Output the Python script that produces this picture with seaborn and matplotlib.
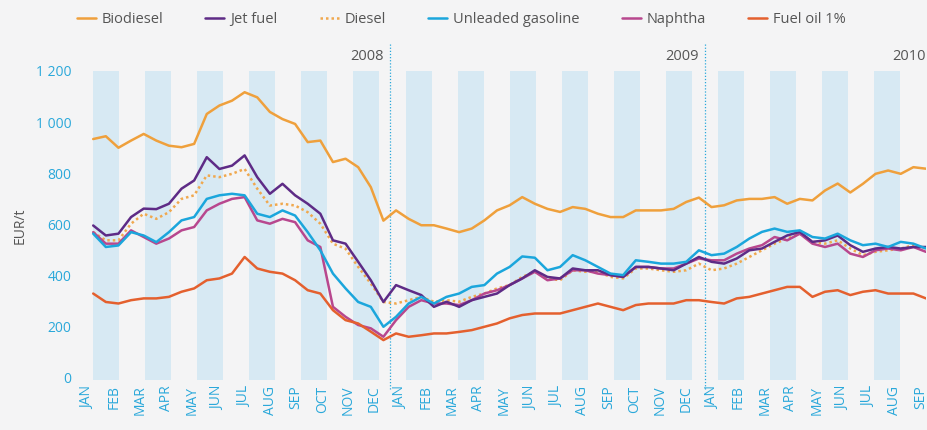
import numpy as np
import pandas as pd
import matplotlib.pyplot as plt
import seaborn as sns
from matplotlib.lines import Line2D

# month labels, Jan 2008 - Sep 2010
months_2008 = ["JAN", "FEB", "MAR", "APR", "MAY", "JUN", "JUL", "AUG", "SEP", "OCT", "NOV", "DEC"]
months_2009 = ["JAN", "FEB", "MAR", "APR", "MAY", "JUN", "JUL", "AUG", "SEP", "OCT", "NOV", "DEC"]
months_2010 = ["JAN", "FEB", "MAR", "APR", "MAY", "JUN", "JUL", "AUG", "SEP"]
month_labels = months_2008 + months_2009 + months_2010
years = ["2008", "2009", "2010"]

# prices in EUR/t, read roughly twice a month
biodiesel = [934, 945, 900, 928, 954, 928, 908, 902, 915, 1032, 1065, 1084, 1117, 1097, 1040, 1012,
             993, 922, 928, 844, 857, 824, 746, 615, 655, 622, 597, 597, 584, 570, 584, 616,
             655, 675, 707, 681, 661, 649, 668, 661, 642, 629, 629, 655, 655, 655, 661, 688,
             705, 668, 675, 694, 700, 700, 707, 681, 700, 694, 733, 760, 725, 759, 798, 811,
             798, 824, 818]
jet_fuel = [596, 557, 564, 629, 662, 660, 681, 740, 772, 863, 817, 830, 870, 785, 720, 759,
            714, 681, 642, 538, 525, 454, 382, 297, 363, 343, 324, 278, 298, 278, 304, 317,
            330, 363, 389, 421, 395, 389, 428, 421, 421, 402, 395, 434, 434, 428, 421, 447,
            473, 454, 447, 467, 499, 506, 532, 557, 571, 532, 538, 557, 519, 493, 506, 512,
            506, 512, 512]
diesel = [570, 538, 538, 603, 642, 622, 648, 700, 714, 792, 785, 798, 817, 740, 674, 681,
          674, 648, 603, 525, 505, 434, 369, 297, 291, 304, 317, 298, 304, 298, 317, 330,
          350, 363, 395, 415, 389, 382, 421, 415, 415, 395, 389, 428, 428, 421, 415, 421,
          447, 421, 428, 447, 473, 499, 525, 545, 564, 532, 525, 538, 506, 480, 493, 499,
          506, 519, 506]
unleaded = [564, 512, 518, 570, 557, 531, 570, 616, 629, 700, 714, 720, 714, 642, 629, 655,
            635, 570, 499, 408, 350, 297, 278, 200, 239, 291, 317, 291, 317, 330, 356, 363,
            408, 434, 475, 470, 421, 434, 480, 460, 434, 408, 402, 460, 454, 447, 447, 454,
            499, 480, 486, 512, 545, 571, 584, 571, 577, 551, 545, 564, 538, 519, 525, 512,
            532, 525, 506]
naphtha = [570, 525, 525, 577, 551, 525, 545, 577, 590, 655, 681, 700, 707, 616, 603, 622,
           609, 538, 512, 278, 239, 207, 194, 161, 226, 278, 304, 291, 291, 285, 304, 330,
           343, 363, 389, 415, 382, 389, 421, 421, 408, 402, 395, 434, 434, 428, 428, 447,
           467, 460, 460, 486, 506, 519, 551, 538, 564, 525, 512, 525, 486, 473, 499, 506,
           499, 512, 493]
fuel_oil = [330, 297, 291, 304, 311, 311, 317, 337, 350, 382, 389, 408, 473, 428, 415, 408,
            382, 343, 330, 265, 226, 213, 181, 148, 174, 161, 167, 174, 174, 180, 187, 200,
            213, 233, 246, 252, 252, 252, 265, 278, 291, 278, 265, 285, 291, 291, 291, 304,
            304, 297, 291, 311, 317, 330, 343, 356, 356, 317, 337, 343, 324, 337, 343, 330,
            330, 330, 311]

t = np.arange(len(biodiesel)) * 0.5  # months since start of series

df = pd.DataFrame({
    "t": t,
    "Biodiesel": biodiesel,
    "Jet fuel": jet_fuel,
    "Diesel": diesel,
    "Unleaded gasoline": unleaded,
    "Naphtha": naphtha,
    "Fuel oil 1%": fuel_oil,
})
long = df.melt(id_vars="t", var_name="fuel", value_name="price")

colors = {
    "Biodiesel": "#EFA03C",
    "Jet fuel": "#5E2B86",
    "Diesel": "#F0A84E",
    "Unleaded gasoline": "#1BA6DC",
    "Naphtha": "#B8478E",
    "Fuel oil 1%": "#E4602E",
}
dashes = {
    "Biodiesel": "",
    "Jet fuel": "",
    "Diesel": (1, 1.2),
    "Unleaded gasoline": "",
    "Naphtha": "",
    "Fuel oil 1%": "",
}
draw_order = ["Biodiesel", "Diesel", "Naphtha", "Jet fuel", "Unleaded gasoline", "Fuel oil 1%"]
legend_order = ["Biodiesel", "Jet fuel", "Diesel", "Unleaded gasoline", "Naphtha", "Fuel oil 1%"]

sns.set_style("white")
plt.rcParams["font.family"] = ["Open Sans", "DejaVu Sans"]

bg = "#F4F4F5"
band = "#D7E9F3"
cyan = "#2AA8DA"
grey = "#555555"

fig = plt.figure(figsize=(9.28, 4.30), dpi=100, facecolor=bg)
ax = fig.add_axes([88 / 928, 50 / 430, 838 / 928, 309 / 430])
ax.set_facecolor(bg)

x_max = 33
n_bands = 32
w = x_max / n_bands
for j in range(0, n_bands, 2):
    ax.axvspan(j * w, (j + 1) * w, color=band, lw=0, zorder=0)

sns.lineplot(data=long, x="t", y="price", hue="fuel", style="fuel",
             hue_order=draw_order, style_order=draw_order,
             palette=colors, dashes=dashes, linewidth=1.8,
             legend=False, ax=ax, zorder=3)

# year separators
for xv in [11.4 * w, 23.5 * w]:
    ax.axvline(xv, ymin=-0.03, ymax=1.09, color=cyan, ls=(0, (1, 1.5)),
               lw=0.9, clip_on=False, zorder=2)
ax.text(11.4 * w - 0.25, 1255, years[0], ha="right", va="center", color=grey, fontsize=10.5)
ax.text(23.5 * w - 0.25, 1255, years[1], ha="right", va="center", color=grey, fontsize=10.5)
ax.text(x_max, 1255, years[2], ha="right", va="center", color=grey, fontsize=10.5)

ax.set_xlim(0, x_max)
ax.set_ylim(-8, 1200)
ax.set_yticks([0, 200, 400, 600, 800, 1000, 1200])
ax.set_yticklabels(["0", "200", "400", "600", "800", "1 000", "1 200"])
ax.set_xticks([(i - 0.2) * w for i in range(len(month_labels))])
ax.set_xticklabels(month_labels, rotation=90)
ax.tick_params(axis="y", length=0, pad=12, labelsize=10, labelcolor=cyan)
ax.tick_params(axis="x", length=0, pad=4, labelsize=10, labelcolor=cyan)
ax.set_xlabel("")
ax.set_ylabel("EUR/t", color=grey, fontsize=10, labelpad=6)
sns.despine(ax=ax, left=True, bottom=True)

handles = [Line2D([], [], color=colors[k], lw=1.8,
                  ls=(0, (1, 1.2)) if k == "Diesel" else "-") for k in legend_order]
fig.legend(handles, legend_order, loc="center", bbox_to_anchor=(0.497, 0.955), ncol=6,
           frameon=False, fontsize=10.5, handlelength=1.3, handletextpad=0.4,
           columnspacing=2.9, labelcolor=grey)

fig.savefig("out.png", dpi=100, facecolor=bg)
